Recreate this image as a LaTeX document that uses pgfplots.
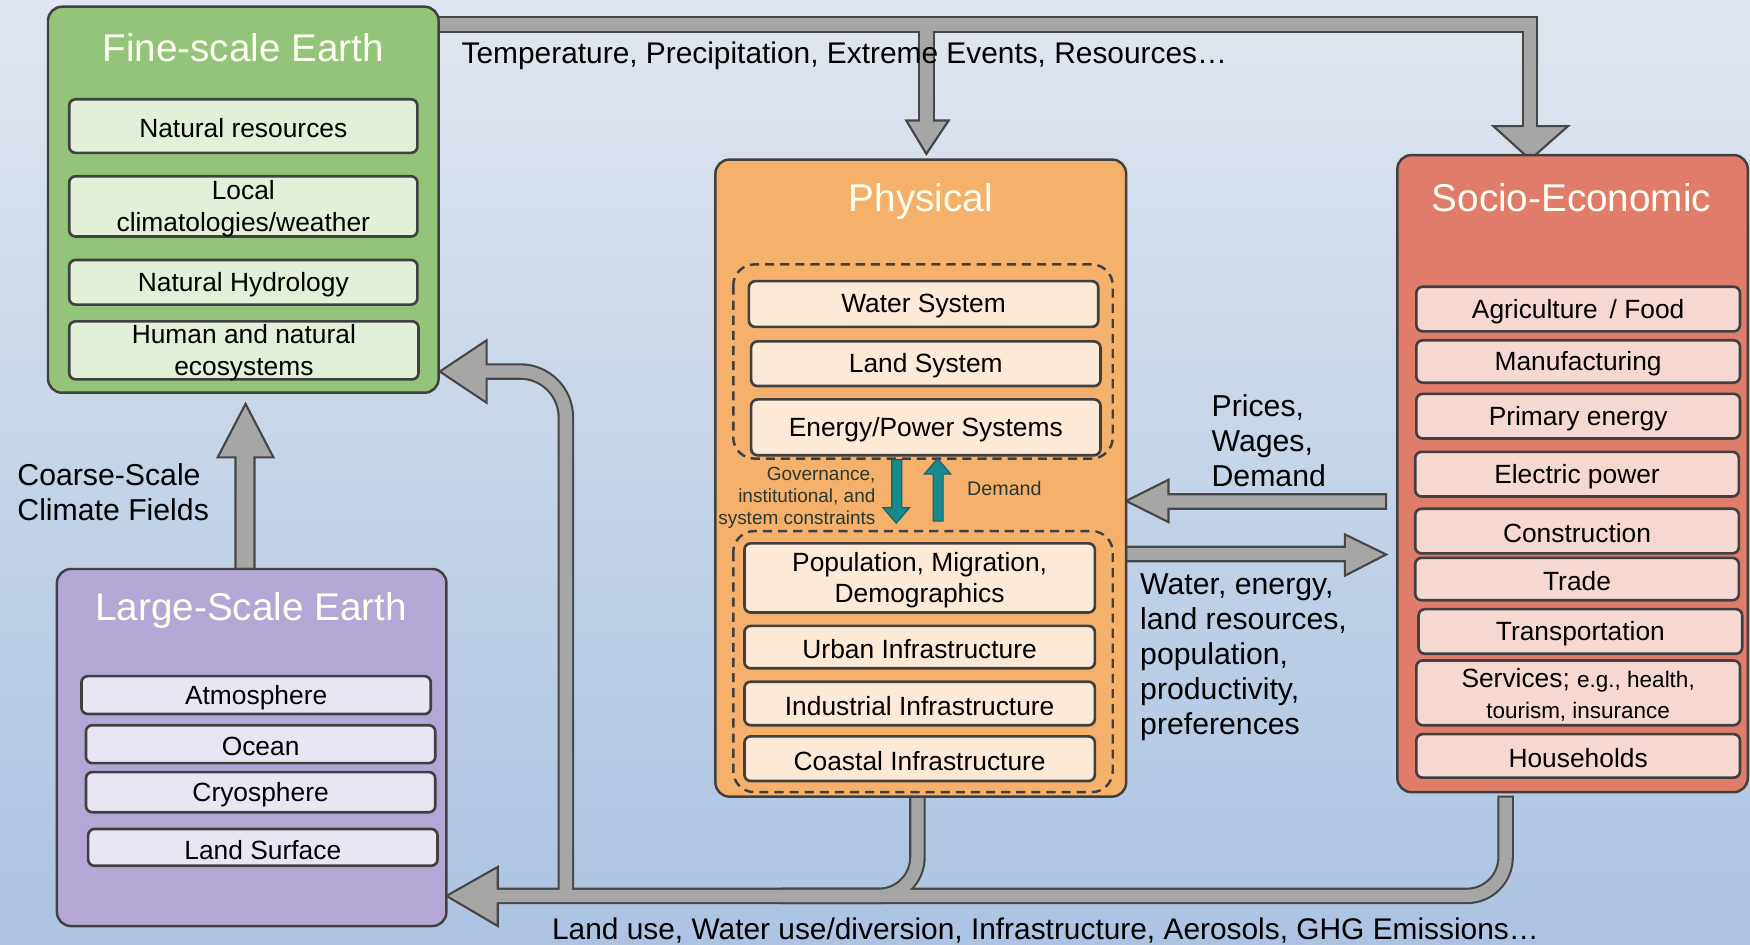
\documentclass[border=0pt]{standalone}
\usepackage{pgfplots}
\pgfplotsset{compat=1.18}
\usepackage{fontspec}
\setmainfont{Liberation Sans}
\definecolor{bgtop}{RGB}{224,230,239}
\definecolor{bgmid}{RGB}{197,212,231}
\definecolor{bgbot}{RGB}{172,196,226}
\definecolor{grn}{RGB}{146,196,122}
\definecolor{grnin}{RGB}{226,239,217}
\definecolor{org}{RGB}{245,177,108}
\definecolor{orgin}{RGB}{252,233,214}
\definecolor{red}{RGB}{224,124,106}
\definecolor{redin}{RGB}{246,216,210}
\definecolor{lav}{RGB}{180,167,214}
\definecolor{lavin}{RGB}{233,230,244}
\definecolor{agray}{RGB}{166,166,166}
\definecolor{adark}{RGB}{70,70,70}
\definecolor{tealc}{RGB}{24,138,140}
\definecolor{tealdark}{RGB}{20,95,105}
\definecolor{boxline}{RGB}{64,64,64}
\definecolor{titlec}{RGB}{255,255,242}
\newcommand{\obox}[5]{\draw[rounded corners=4pt,line width=0.7pt,draw=boxline,fill=#5] (#1,#2) rectangle (#3,#4);}
\newcommand{\ibox}[6]{\draw[rounded corners=1.8pt,line width=0.75pt,draw=boxline,fill=#5] (#1,#2) rectangle (#3,#4);
  \node[font=\fontsize{7.5}{8.9}\selectfont,align=center,inner sep=0pt] at ({(#1+#3)/2},{(#2+#4)/2+2}) {#6};}
\newcommand{\ttl}[3]{\node[font=\fontsize{11}{13}\selectfont,text=titlec,inner sep=0pt] at (#1,#2) {#3};}
\begin{document}
\begin{tikzpicture}
\begin{axis}[width=17.5cm,height=9.45cm,scale only axis,xmin=0,xmax=1568,ymin=0,ymax=847,
  y dir=reverse,hide axis,clip=false,no markers]
% background
\shade[top color=bgtop,bottom color=bgbot,middle color=bgmid] (0,0) rectangle (1568,847);
% ---------- connector bars (outline strokes) ----------
\draw[adark,line width=4.7pt] (385,22) -- (1371,22) -- (1371,114);
\draw[adark,line width=4.7pt] (830,22) -- (830,109);
\draw[adark,line width=4.7pt,rounded corners=11pt] (1349,713) -- (1349,803) -- (440,803);
\draw[adark,line width=4.7pt,rounded corners=11pt] (822,713) -- (822,803) -- (700,803);
\draw[adark,line width=4.7pt,rounded corners=13pt] (507,803) -- (507,333) -- (430,333);
% arrow heads
\addplot[fill=agray,draw=adark,line width=0.6pt] coordinates {(1338,113) (1405,113) (1371,143)} -- cycle;
\addplot[fill=agray,draw=adark,line width=0.6pt] coordinates {(812,108) (850,108) (830,138)} -- cycle;
\addplot[fill=agray,draw=adark,line width=0.6pt] coordinates {(446,777) (446,830) (400,803)} -- cycle;
\addplot[fill=agray,draw=adark,line width=0.6pt] coordinates {(436,305) (436,361) (394,333)} -- cycle;
% inner gray strokes
\draw[agray,line width=3.5pt] (386,22) -- (1371,22) -- (1371,115);
\draw[agray,line width=3.5pt] (830,23) -- (830,110);
\draw[agray,line width=3.5pt,rounded corners=11pt] (1349,715) -- (1349,803) -- (444,803);
\draw[agray,line width=3.5pt,rounded corners=11pt] (822,715) -- (822,803) -- (700,803);
\draw[agray,line width=3.5pt,rounded corners=13pt] (507,803) -- (507,333) -- (434,333);
% straight arrows
\addplot[fill=agray,draw=adark,line width=0.6pt] coordinates {(1242,443) (1047,443) (1047,430) (1009,449) (1047,468) (1047,456) (1242,456)} -- cycle;
\addplot[fill=agray,draw=adark,line width=0.6pt] coordinates {(1009,490) (1205,490) (1205,479) (1242,497) (1205,516) (1205,503) (1009,503)} -- cycle;
\addplot[fill=agray,draw=adark,line width=0.6pt] coordinates {(211,510) (211,410) (195,410) (220,362) (245,410) (228,410) (228,510)} -- cycle;
% ---------- Fine-scale Earth ----------
\obox{43}{6}{393}{352}{grn}
\ttl{218}{43}{Fine-scale Earth}
\ibox{62}{89}{374}{137}{grnin}{Natural resources}
\ibox{62}{158}{374}{212}{grnin}{Local\\climatologies/weather}
\ibox{62}{233}{374}{273}{grnin}{Natural Hydrology}
\ibox{62}{288}{375}{340}{grnin}{Human and natural\\ecosystems}
% ---------- Large-Scale Earth ----------
\obox{51}{510}{400}{830}{lav}
\ttl{225}{547}{Large-Scale Earth}
\ibox{73}{606}{386}{640}{lavin}{Atmosphere}
\ibox{77}{650}{390}{684}{lavin}{Ocean}
\ibox{77}{692}{390}{728}{lavin}{Cryosphere}
\ibox{79}{743}{392}{776}{lavin}{Land Surface}
% ---------- Physical ----------
\obox{641}{143}{1009}{714}{org}
\ttl{825}{181}{Physical}
\draw[boxline,line width=0.7pt,dash pattern=on 2.6pt off 1.7pt,rounded corners=6pt] (657,237) rectangle (997,411);
\draw[boxline,line width=0.7pt,dash pattern=on 2.6pt off 1.7pt,rounded corners=6pt] (657,476) rectangle (997,710);
\ibox{671}{252}{984}{293}{orgin}{Water System}
\ibox{673}{306}{986}{346}{orgin}{Land System}
\ibox{673}{358}{986}{408}{orgin}{Energy/Power Systems}
\ibox{667}{487}{981}{549}{orgin}{Population, Migration,\\Demographics}
\ibox{667}{561}{981}{599}{orgin}{Urban Infrastructure}
\ibox{667}{611}{981}{650}{orgin}{Industrial Infrastructure}
\ibox{667}{660}{981}{700}{orgin}{Coastal Infrastructure}
% teal arrows
\addplot[fill=tealc,draw=tealdark,line width=0.3pt] coordinates {(799,412) (808,412) (808,455) (815,455) (803,469) (791,455) (799,455)} -- cycle;
\addplot[fill=tealc,draw=tealdark,line width=0.3pt] coordinates {(836,467) (845,467) (845,425) (852,425) (840,411) (828,425) (836,425)} -- cycle;
\node[font=\fontsize{5.4}{6.3}\selectfont,align=right,anchor=east,inner sep=0pt,text={rgb,255:red,45;green,35;blue,30}] at (785,446) {Governance,\\institutional, and\\system constraints};
\node[font=\fontsize{5.6}{6.3}\selectfont,anchor=west,inner sep=0pt,text={rgb,255:red,45;green,35;blue,30}] at (866,438) {Demand};
% ---------- Socio-Economic ----------
\obox{1252}{139}{1566}{710}{red}
\ttl{1408}{177}{Socio-Economic}
\ibox{1269}{257}{1559}{297}{redin}{Agriculture\, / Food}
\ibox{1269}{305}{1559}{343}{redin}{Manufacturing}
\ibox{1269}{353}{1559}{393}{redin}{Primary energy}
\ibox{1268}{405}{1558}{445}{redin}{Electric power}
\ibox{1268}{456}{1558}{496}{redin}{Construction}
\ibox{1268}{500}{1558}{538}{redin}{Trade}
\ibox{1271}{546}{1561}{586}{redin}{Transportation}
\ibox{1269}{592}{1559}{650}{redin}{Services; {\fontsize{6.4}{8}\selectfont e.g., health,}\\{\fontsize{6.4}{8}\selectfont tourism, insurance}}
\ibox{1269}{658}{1559}{697}{redin}{Households}
% ---------- free texts ----------
\node[font=\fontsize{8.5}{10}\selectfont,anchor=west,inner sep=0pt] at (413,50) {Temperature, Precipitation, Extreme Events, Resources\ldots};
\node[font=\fontsize{8.5}{10}\selectfont,anchor=west,inner sep=0pt] at (494,834) {Land use, Water use/diversion, Infrastructure, Aerosols, GHG Emissions\ldots};
\node[font=\fontsize{8.6}{10.1}\selectfont,anchor=west,align=left,inner sep=0pt] at (15,441) {Coarse-Scale\\Climate Fields};
\node[font=\fontsize{8.6}{9.9}\selectfont,anchor=west,align=left,inner sep=0pt] at (1085,395) {Prices,\\Wages,\\Demand};
\node[font=\fontsize{8.6}{10}\selectfont,anchor=west,align=left,inner sep=0pt] at (1021,589) {Water, energy,\\land resources,\\population,\\productivity,\\preferences};
\end{axis}
\end{tikzpicture}
\end{document}
